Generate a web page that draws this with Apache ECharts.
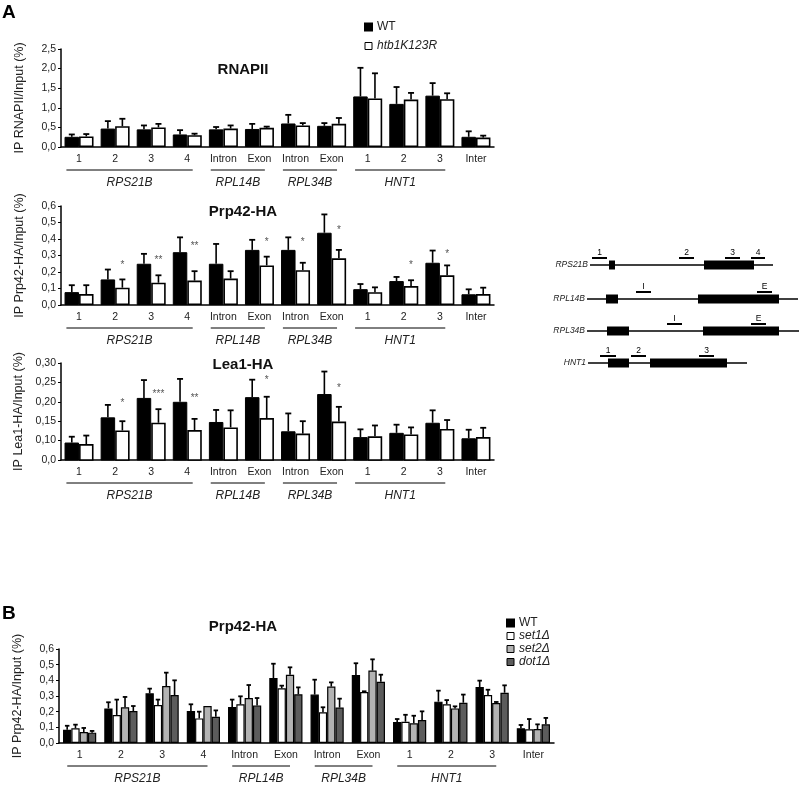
<!DOCTYPE html>
<html><head><meta charset="utf-8">
<script src="https://cdn.jsdelivr.net/npm/echarts@6/dist/echarts.min.js"></script>
<style>html,body{margin:0;padding:0;background:#fff}#c{width:800px;height:786px}</style>
</head><body><div id="c"></div>
<script>
// ---------- data ----------
const categories = ['1','2','3','4','Intron','Exon','Intron','Exon','1','2','3','Inter'];
const groupNames = ['RPS21B','RPL14B','RPL34B','HNT1'];
const groupFirst = [0,4,6,8];
const groupLast  = [3,5,7,10];

// Panel A - RNAPII
const rnapWT     = [0.26,0.47,0.45,0.32,0.45,0.46,0.60,0.54,1.29,1.10,1.31,0.26];
const rnapWTerr  = [0.32,0.66,0.55,0.43,0.51,0.59,0.82,0.61,2.02,1.53,1.63,0.40];
const rnapMut    = [0.27,0.53,0.50,0.30,0.47,0.49,0.55,0.59,1.24,1.21,1.22,0.24];
const rnapMutErr = [0.33,0.72,0.59,0.34,0.55,0.52,0.61,0.74,1.88,1.38,1.37,0.29];

// Panel A - Prp42-HA
const prpWT      = [0.078,0.155,0.250,0.320,0.250,0.334,0.334,0.438,0.096,0.145,0.256,0.065];
const prpWTerr   = [0.120,0.215,0.310,0.410,0.370,0.395,0.410,0.549,0.127,0.170,0.330,0.095];
const prpMut     = [0.066,0.105,0.135,0.148,0.160,0.240,0.211,0.283,0.078,0.115,0.180,0.066];
const prpMutErr  = [0.120,0.155,0.180,0.205,0.205,0.293,0.256,0.334,0.107,0.150,0.240,0.105];
const prpStars   = ['','*','**','**','','*','*','*','','*','*',''];
const prpStarY   = [0,0.24,0.27,0.355,0,0.38,0.38,0.455,0,0.24,0.31,0];

// Panel A - Lea1-HA
const leaWT      = [0.095,0.160,0.210,0.200,0.148,0.212,0.124,0.220,0.109,0.120,0.146,0.106];
const leaWTerr   = [0.110,0.192,0.256,0.259,0.179,0.257,0.170,0.278,0.129,0.141,0.178,0.128];
const leaMut     = [0.091,0.126,0.146,0.127,0.134,0.158,0.118,0.149,0.111,0.116,0.130,0.109];
const leaMutErr  = [0.113,0.150,0.181,0.156,0.178,0.213,0.150,0.187,0.139,0.134,0.153,0.133];
const leaStars   = ['','*','***','**','','*','','*','','','',''];
const leaStarY   = [0,0.196,0.220,0.208,0,0.256,0,0.236,0,0,0,0];

// Panel B - Prp42-HA in mutants
const bWT     = [0.085,0.221,0.317,0.204,0.230,0.415,0.309,0.434,0.134,0.264,0.357,0.094];
const bWTerr  = [0.110,0.260,0.347,0.247,0.277,0.506,0.404,0.509,0.153,0.334,0.398,0.115];
const bSet1   = [0.094,0.179,0.243,0.157,0.247,0.349,0.196,0.326,0.136,0.247,0.306,0.087];
const bSet1e  = [0.117,0.277,0.277,0.200,0.298,0.366,0.228,0.330,0.180,0.274,0.340,0.153];
const bSet2   = [0.070,0.228,0.364,0.236,0.287,0.436,0.360,0.462,0.126,0.221,0.255,0.089];
const bSet2e  = [0.096,0.294,0.449,0.236,0.370,0.483,0.387,0.534,0.174,0.234,0.262,0.119];
const bDot1   = [0.066,0.204,0.306,0.168,0.240,0.311,0.226,0.391,0.147,0.257,0.321,0.119];
const bDot1e  = [0.077,0.236,0.400,0.208,0.287,0.355,0.283,0.436,0.202,0.309,0.368,0.160];

// Gene schematic (arbitrary schematic units)
const geneNames = ['RPS21B','RPL14B','RPL34B','HNT1'];
const geneRow   = [25,59,91,123];
const geneSpan  = [[30,213],[27,238],[27,239],[28,187]];
const geneExons = [[[49,55],[144,194]],[[46,58],[138,219]],[[47,69],[143,219]],[[48,69],[90,167]]];
const genePrimers = [[[32,47,'1'],[119,134,'2'],[165,180,'3'],[191,205,'4']],
                     [[76,91,'I'],[197,212,'E']],
                     [[107,122,'I'],[191,206,'E']],
                     [[40,56,'1'],[71,86,'2'],[139,154,'3']]];

// ---------- helpers ----------
const FONT = 'Liberation Sans, Arial, Helvetica, sans-serif';
const comma1 = v => v.toFixed(1).replace('.', ',');
const comma2 = v => (v < 0.06 ? '0,0' : v.toFixed(2).replace('.', ','));

function errData(vals, tops, k, n){ return vals.map((v,i)=>[i, v, tops[i], k, n]); }
function errRender(barW, capW){
  return function(params, api){
    const i = api.value(0), v = api.value(1), t = api.value(2), k = api.value(3), n = api.value(4);
    if (!(t > v + 1e-6)) return {type:'group', children:[]};
    const b = api.coord([i, v]), tp = api.coord([i, t]);
    const x = b[0] + (k - (n-1)/2) * barW;
    return {type:'group', children:[
      {type:'line', shape:{x1:x,y1:b[1],x2:x,y2:tp[1]}, style:{stroke:'#000',lineWidth:1.6}},
      {type:'line', shape:{x1:x-capW/2,y1:tp[1],x2:x+capW/2,y2:tp[1]}, style:{stroke:'#000',lineWidth:1.8}}
    ]};
  };
}
function groupSeries(xi, yi, yMin, f0, f1){
  return {type:'custom', xAxisIndex:xi, yAxisIndex:yi, clip:false, silent:true,
    data: groupNames.map((g,j)=>[groupFirst[j], yMin]),
    renderItem:function(params, api){
      const j = params.dataIndex;
      const bw = api.size([1,0])[0];
      const a = api.coord([groupFirst[j], yMin]), b = api.coord([groupLast[j], yMin]);
      const x1 = a[0] - f0*bw, x2 = b[0] + f1*bw;
      const y = a[1] + 23;
      return {type:'group', children:[
        {type:'line', shape:{x1:x1,y1:y,x2:x2,y2:y}, style:{stroke:'#000',lineWidth:1}},
        {type:'text', x:(x1+x2)/2, y:y+13, style:{text:groupNames[j], font:'italic 12px '+FONT, fill:'#222', align:'center', verticalAlign:'middle'}}
      ]};
    }};
}
function starSeries(xi, yi, stars, ys, barW){
  return {type:'custom', xAxisIndex:xi, yAxisIndex:yi, clip:false, silent:true,
    data: stars.map((s,i)=>[i, ys[i]]),
    renderItem:function(params, api){
      const i = params.dataIndex;
      if (!stars[i]) return {type:'group', children:[]};
      const p = api.coord([i, ys[i]]);
      return {type:'text', x:p[0]+barW/2, y:p[1], style:{text:stars[i], font:'10px '+FONT, fill:'#555', align:'center', verticalAlign:'middle'}};
    }};
}
function xAx(gi){
  return {type:'category', gridIndex:gi, data:categories,
    axisLine:{lineStyle:{color:'#000',width:1.5}}, axisTick:{show:false},
    axisLabel:{color:'#222', fontSize:10.5, fontFamily:FONT, margin:7, interval:0}};
}
function yAx(gi, min, max, interval, fmt, name){
  return {type:'value', gridIndex:gi, min:min, max:max, interval:interval,
    name:name, nameLocation:'middle', nameGap:35, nameRotate:90,
    nameTextStyle:{color:'#222', fontSize:12.5, fontFamily:FONT},
    axisLine:{show:true, lineStyle:{color:'#000',width:1.5}},
    axisTick:{show:true, length:3, lineStyle:{color:'#000'}},
    axisLabel:{color:'#222', fontSize:10.5, fontFamily:FONT, margin:5, formatter:fmt},
    splitLine:{show:false}};
}
const blackBar = {color:'#000', borderColor:'#000', borderWidth:1};
const whiteBar = {color:'#fff', borderColor:'#000', borderWidth:1.6};
const BW_A = 14.5;

const series = [];
function pairPanel(gi, wt, wte, mu, mue, yMin){
  series.push({name:'WT', type:'bar', xAxisIndex:gi, yAxisIndex:gi, data:wt, barWidth:BW_A, barGap:'0%', itemStyle:blackBar, silent:true});
  series.push({name:'htb1K123R', type:'bar', xAxisIndex:gi, yAxisIndex:gi, data:mu, barWidth:BW_A, barGap:'0%', itemStyle:whiteBar, silent:true});
  series.push({type:'custom', xAxisIndex:gi, yAxisIndex:gi, clip:false, silent:true, data:errData(wt,wte,0,2), renderItem:errRender(BW_A,6), z:5});
  series.push({type:'custom', xAxisIndex:gi, yAxisIndex:gi, clip:false, silent:true, data:errData(mu,mue,1,2), renderItem:errRender(BW_A,6), z:5});
  series.push(groupSeries(gi, gi, yMin, 0.35, 0.15));
}
pairPanel(0, rnapWT, rnapWTerr, rnapMut, rnapMutErr, 0);
pairPanel(1, prpWT, prpWTerr, prpMut, prpMutErr, 0);
pairPanel(2, leaWT, leaWTerr, leaMut, leaMutErr, 0.05);
series.push(starSeries(1,1,prpStars,prpStarY,BW_A));
series.push(starSeries(2,2,leaStars,leaStarY,BW_A));

// Panel B
const bNames = ['WT','set1Δ','set2Δ','dot1Δ'];
const bVals = [bWT,bSet1,bSet2,bDot1];
const bErrs = [bWTerr,bSet1e,bSet2e,bDot1e];
const bColors = ['#000','#fff','#b3b3b3','#5c5c5c'];
bVals.forEach((v,k)=>{
  series.push({name:bNames[k], type:'bar', xAxisIndex:3, yAxisIndex:3, data:v, barWidth:8.3, barGap:'0%',
    itemStyle:{color:bColors[k], borderColor:'#000', borderWidth:1.2}, silent:true});
});
bVals.forEach((v,k)=>{
  series.push({type:'custom', xAxisIndex:3, yAxisIndex:3, clip:false, silent:true, data:errData(v,bErrs[k],k,4), renderItem:errRender(8.3,4.5), z:5});
});
series.push(groupSeries(3,3,0,0.3,0.1));

// Schematic
series.push({type:'custom', xAxisIndex:4, yAxisIndex:4, clip:false, silent:true,
  data: geneNames.map((g,j)=>[geneSpan[j][0], geneRow[j]]),
  renderItem:function(params, api){
    const j = params.dataIndex, row = geneRow[j];
    const ch = [];
    const s = api.coord([geneSpan[j][0], row]), e = api.coord([geneSpan[j][1], row]);
    ch.push({type:'line', shape:{x1:s[0],y1:s[1],x2:e[0],y2:e[1]}, style:{stroke:'#000',lineWidth:1.3}});
    geneExons[j].forEach(ex=>{
      const a = api.coord([ex[0], row]), b = api.coord([ex[1], row]);
      ch.push({type:'rect', shape:{x:a[0], y:a[1]-4.5, width:b[0]-a[0], height:9}, style:{fill:'#000'}});
    });
    genePrimers[j].forEach(p=>{
      const a = api.coord([p[0], row]), b = api.coord([p[1], row]);
      const y = a[1]-7;
      ch.push({type:'line', shape:{x1:a[0],y1:y,x2:b[0],y2:y}, style:{stroke:'#000',lineWidth:2}});
      ch.push({type:'text', x:(a[0]+b[0])/2, y:y-5, style:{text:p[2], font:'8.5px '+FONT, fill:'#000', align:'center', verticalAlign:'middle'}});
    });
    ch.push({type:'text', x:s[0]-2, y:s[1], style:{text:geneNames[j], font:'italic 8.5px '+FONT, fill:'#222', align:'right', verticalAlign:'middle'}});
    return {type:'group', children:ch};
  }});

const option = {
  backgroundColor:'#fff',
  animation:false,
  textStyle:{fontFamily:FONT},
  title:[
    {text:'A', left:2, top:3, padding:0, textStyle:{fontSize:19, fontWeight:'bold', color:'#000', fontFamily:FONT}},
    {text:'B', left:2, top:604, padding:0, textStyle:{fontSize:19, fontWeight:'bold', color:'#000', fontFamily:FONT}},
    {text:'RNAPII', left:243, top:62, padding:0, textAlign:'center', textStyle:{fontSize:15, fontWeight:'bold', color:'#111', fontFamily:FONT}},
    {text:'Prp42-HA', left:243, top:204, padding:0, textAlign:'center', textStyle:{fontSize:15, fontWeight:'bold', color:'#111', fontFamily:FONT}},
    {text:'Lea1-HA', left:243, top:357, padding:0, textAlign:'center', textStyle:{fontSize:15, fontWeight:'bold', color:'#111', fontFamily:FONT}},
    {text:'Prp42-HA', left:243, top:619, padding:0, textAlign:'center', textStyle:{fontSize:15, fontWeight:'bold', color:'#111', fontFamily:FONT}}
  ],
  legend:[
    {left:364, top:21, padding:0, orient:'vertical', itemWidth:7, itemHeight:7, itemGap:7, icon:'rect',
     selectedMode:false,
     textStyle:{fontSize:12, color:'#222', fontFamily:FONT},
     data:[{name:'WT'},{name:'htb1K123R', textStyle:{fontStyle:'italic'}, itemStyle:{borderColor:'#000',borderWidth:1}}]},
    {left:506, top:617, padding:0, orient:'vertical', itemWidth:7, itemHeight:7, itemGap:1, icon:'rect',
     selectedMode:false,
     textStyle:{fontSize:12, color:'#222', fontFamily:FONT},
     data:[{name:'WT'},
           {name:'set1Δ', textStyle:{fontStyle:'italic'}, itemStyle:{borderColor:'#000',borderWidth:1}},
           {name:'set2Δ', textStyle:{fontStyle:'italic'}, itemStyle:{borderColor:'#000',borderWidth:1}},
           {name:'dot1Δ', textStyle:{fontStyle:'italic'}, itemStyle:{borderColor:'#000',borderWidth:1}}]}
  ],
  grid:[
    {left:61, top:49, width:433, height:98},
    {left:61, top:206, width:433, height:99},
    {left:61, top:363, width:433, height:97},
    {left:59, top:649, width:495, height:94},
    {left:560, top:240, width:240, height:140}
  ],
  xAxis:[xAx(0), xAx(1), xAx(2), xAx(3),
    {type:'value', gridIndex:4, min:0, max:240, show:false}],
  yAxis:[
    yAx(0, 0, 2.5, 0.5, comma1, 'IP RNAPII/Input (%)'),
    yAx(1, 0, 0.6, 0.1, comma1, 'IP Prp42-HA/Input (%)'),
    yAx(2, 0.05, 0.30, 0.05, comma2, 'IP Lea1-HA/Input (%)'),
    yAx(3, 0, 0.6, 0.1, comma1, 'IP Prp42-HA/Input (%)'),
    {type:'value', gridIndex:4, min:0, max:140, inverse:true, show:false}
  ],
  series: series
};
const chart = echarts.init(document.getElementById('c'), null, {renderer:'canvas'});
chart.setOption(option);
</script>
</body></html>
